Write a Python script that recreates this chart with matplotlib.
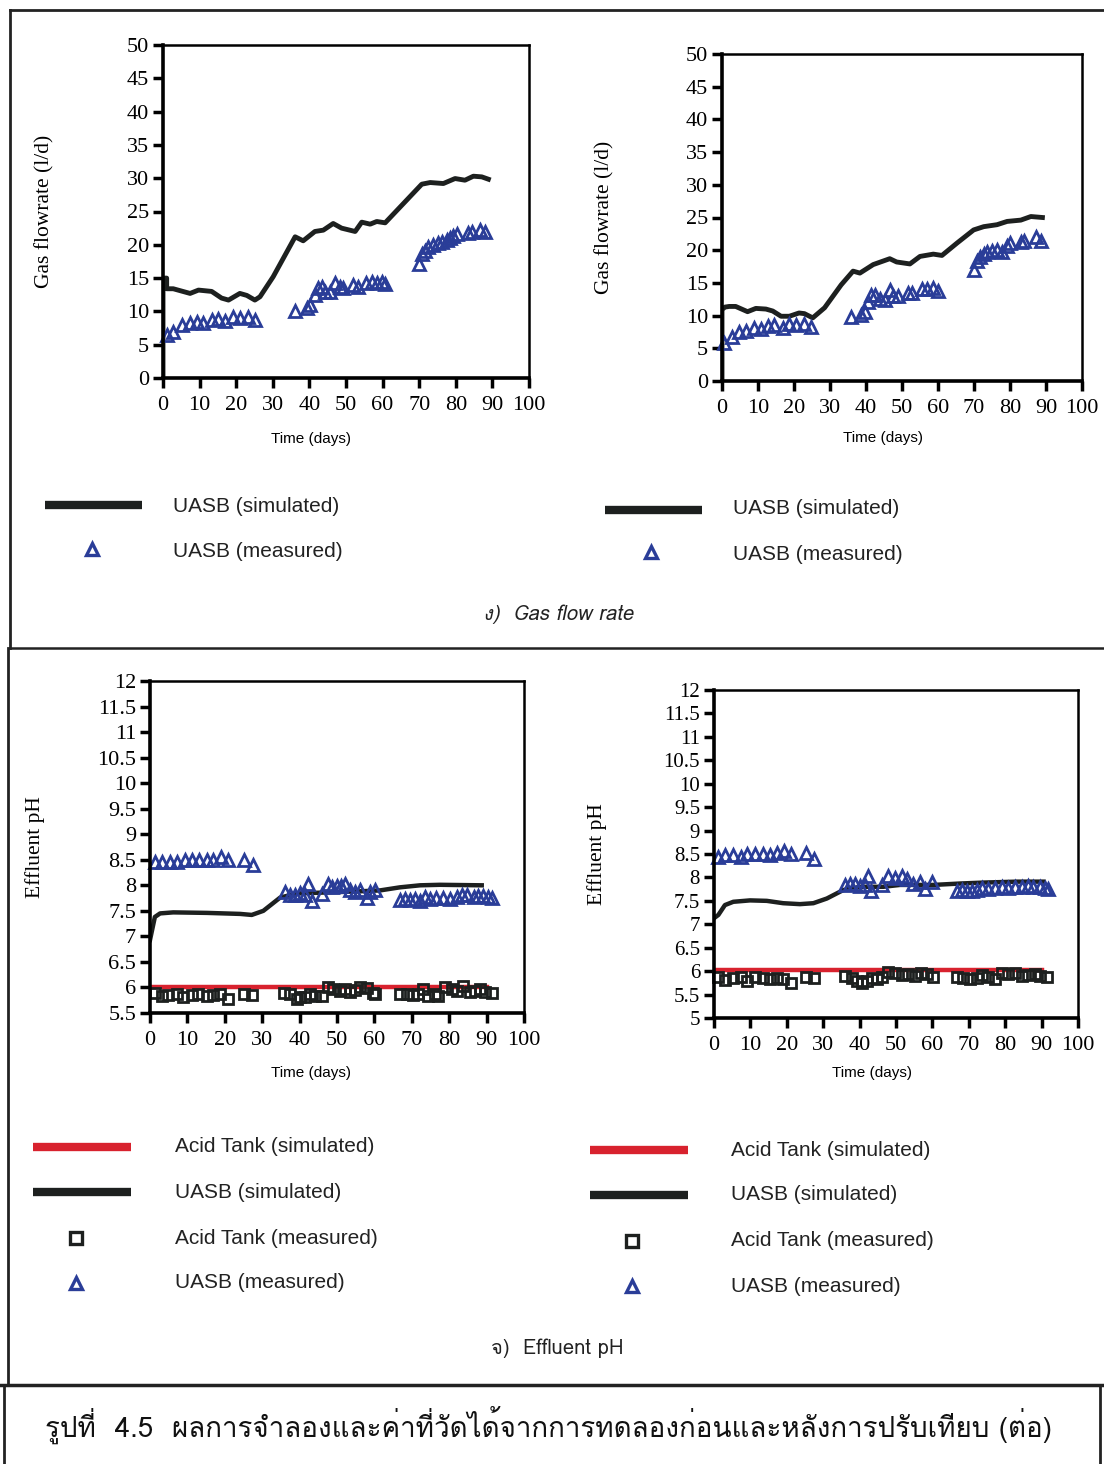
import matplotlib
matplotlib.use("Agg")
import matplotlib.pyplot as plt
from matplotlib.lines import Line2D
from matplotlib import font_manager
from fontTools.ttLib import TTFont

# ---- gas flow rate, left panel ----
gas_l_sim_t = [0, 0, 1.0, 1.0, 2.8, 7.4, 9.7, 13.3, 16.0, 17.9, 21.0, 22.9, 25.1, 26.5, 30.1,
               36.1, 38.3, 41.5, 43.8, 46.5, 48.8, 52.5, 54.3, 56.6, 58.4, 60.7, 65.7, 70.7,
               73.0, 76.6, 79.8, 82.5, 84.8, 87.1, 88.9]
gas_l_sim = [0, 15, 15, 13.4, 13.4, 12.7, 13.2, 13.0, 12.0, 11.7, 12.7, 12.4, 11.7, 12.2, 15.2,
             21.2, 20.6, 22.0, 22.2, 23.2, 22.5, 22.0, 23.4, 23.1, 23.5, 23.3, 26.2, 29.1,
             29.35, 29.2, 29.95, 29.7, 30.3, 30.2, 29.85]
gas_l_meas_t = [1.0, 2.8, 5.1, 7.4, 9.2, 11.0, 13.3, 15.1, 16.9, 19.2, 21.0, 23.3, 25.1,
                36.1, 39.3, 40.2, 41.5, 42.4, 43.4, 44.3, 45.6, 47.0, 48.4, 49.3, 52.0, 53.4,
                55.6, 57.0, 58.4, 59.7, 60.7,
                70.0, 70.7, 71.6, 72.5, 73.9, 75.2, 76.1, 77.5, 78.4, 79.3, 80.2, 83.4, 84.3,
                86.6, 88.0]
gas_l_meas = [6.45, 6.95, 7.95, 8.2, 8.45, 8.2, 8.7, 8.8, 8.6, 9.2, 8.95, 9.2, 8.7,
              10.05, 10.45, 10.95, 12.45, 13.45, 13.7, 12.95, 12.95, 14.2, 13.6, 13.45, 13.95,
              13.7, 14.2, 14.45, 14.3, 14.45, 14.1,
              17.1, 18.55, 19.1, 19.6, 19.95, 20.2, 20.45, 20.7, 20.95, 21.3, 21.6, 21.7,
              21.95, 22.2, 21.95]

# ---- gas flow rate, right panel ----
gas_r_sim_t = [0, 0, 0.8, 2.0, 3.8, 7.1, 9.4, 12.2, 14.1, 16.4, 18.7, 21.4, 22.9, 25.2, 28.5,
               33.1, 36.4, 38.3, 42.0, 46.6, 48.5, 52.2, 55.0, 58.7, 61.1, 65.3, 69.9, 72.7,
               76.4, 79.2, 83.0, 85.8, 89.0]
gas_r_sim = [0, 10.9, 11.3, 11.4, 11.4, 10.6, 11.1, 11.0, 10.7, 9.9, 9.9, 10.4, 10.3, 9.65,
             11.2, 14.7, 16.8, 16.5, 17.8, 18.7, 18.2, 17.9, 19.05, 19.4, 19.2, 21.1, 23.1,
             23.6, 23.9, 24.4, 24.6, 25.15, 25.0]
gas_r_meas_t = [0.6, 2.7, 4.7, 6.6, 8.9, 10.8, 12.7, 14.5, 16.9, 18.7, 20.6, 22.9, 24.8,
                35.9, 38.7, 39.6, 40.6, 41.5, 42.5, 43.9, 45.3, 46.6, 47.6, 49.0, 51.8, 52.7,
                55.5, 56.9, 58.7, 60.1,
                69.9, 70.9, 71.8, 72.7, 73.6, 75.0, 76.4, 77.8, 79.2, 80.1, 83.0, 83.9, 87.1,
                88.5]
gas_r_meas = [5.85, 6.7, 7.5, 7.7, 8.1, 7.9, 8.4, 8.5, 8.1, 8.7, 8.5, 8.7, 8.2,
              9.75, 10.15, 10.5, 12.1, 13.1, 13.2, 12.6, 12.45, 13.9, 13.0, 13.0, 13.5, 13.5,
              14.0, 14.0, 14.2, 13.8,
              16.9, 18.4, 18.9, 19.4, 19.7, 19.9, 20.1, 19.8, 20.6, 21.1, 21.2, 21.4, 21.95,
              21.4]

# ---- effluent pH, left panel ----
ph_l_uasb_sim_t = [0, 1.3, 2.7, 6.2, 15.2, 24.1, 27.2, 30.3, 34.8, 39.2, 47.2, 55.3, 61.5,
                   66.8, 72.2, 77.5, 88.7]
ph_l_uasb_sim = [6.93, 7.38, 7.45, 7.47, 7.46, 7.44, 7.42, 7.5, 7.76, 7.84, 7.86, 7.88, 7.9,
                 7.96, 8.0, 8.01, 8.0]
ph_l_acid_sim_t = [0.5, 90]
ph_l_acid_sim = [6.0, 6.0]
ph_l_uasb_meas_t = [1.3, 3.1, 5.3, 7.3, 9.4, 11.1, 13.2, 15.2, 16.9, 19.1, 20.9, 25.1, 27.5,
                    36.1, 37.4, 38.8, 40.1, 41.4, 42.3, 43.2, 45.9, 47.7, 48.6, 49.9, 51.2,
                    52.1, 53.5, 54.8, 56.1, 57.9, 58.8, 60.2,
                    66.8, 68.2, 69.5, 70.9, 72.2, 73.5, 74.9, 76.6, 78.4, 80.2, 82.0, 83.3,
                    84.7, 86.5, 87.8, 89.1, 90.5, 91.4]
ph_l_uasb_meas = [8.45, 8.45, 8.45, 8.45, 8.5, 8.5, 8.5, 8.5, 8.5, 8.55, 8.5, 8.5, 8.4,
                  7.87, 7.82, 7.82, 7.85, 7.82, 8.03, 7.7, 7.83, 8.03, 7.96, 7.99, 7.99,
                  8.03, 7.9, 7.87, 7.91, 7.76, 7.87, 7.9,
                  7.72, 7.74, 7.72, 7.73, 7.7, 7.78, 7.74, 7.76, 7.76, 7.74, 7.78, 7.81,
                  7.81, 7.78, 7.79, 7.79, 7.78, 7.76]
ph_l_acid_meas_t = [1.3, 3.1, 4.9, 7.1, 8.9, 11.1, 12.9, 15.2, 16.9, 18.7, 20.9, 25.0, 27.2,
                    35.7, 37.4, 39.2, 40.1, 41.4, 42.8, 44.1, 45.9, 47.7, 49.0, 50.8, 52.1,
                    53.5, 54.8, 56.1, 57.9, 59.7, 60.2,
                    66.8, 68.6, 70.4, 71.7, 73.1, 74.4, 76.2, 77.1, 78.9, 80.7, 82.0, 83.8,
                    85.6, 86.9, 88.2, 89.6, 91.4]
ph_l_acid_meas = [5.9, 5.84, 5.86, 5.87, 5.81, 5.86, 5.87, 5.84, 5.86, 5.87, 5.78, 5.88, 5.86,
                  5.9, 5.87, 5.78, 5.82, 5.81, 5.87, 5.84, 5.84, 6.0, 5.97, 5.93, 5.97,
                  5.92, 5.95, 6.0, 5.98, 5.9, 5.87,
                  5.88, 5.87, 5.86, 5.87, 5.97, 5.84, 5.87, 5.84, 6.0, 5.97, 5.93, 6.03,
                  5.92, 5.93, 5.97, 5.92, 5.9]

# ---- effluent pH, right panel ----
ph_r_uasb_sim_t = [0, 1.2, 3.0, 5.3, 9.9, 14.5, 19.0, 23.6, 27.3, 31.0, 35.5, 40.1, 46.5,
                   51.1, 60.3, 67.6, 74.0, 83.2, 90.5]
ph_r_uasb_sim = [7.13, 7.2, 7.41, 7.48, 7.51, 7.5, 7.45, 7.43, 7.45, 7.55, 7.73, 7.8, 7.8,
                 7.84, 7.84, 7.87, 7.89, 7.91, 7.91]
ph_r_acid_sim_t = [0.5, 90]
ph_r_acid_sim = [6.02, 6.02]
ph_r_uasb_meas_t = [1.2, 3.0, 5.3, 7.3, 9.2, 11.3, 13.4, 15.4, 17.2, 19.2, 21.1, 25.3, 27.5,
                    36.0, 37.4, 38.7, 40.1, 41.5, 42.2, 43.0, 46.1, 47.9, 49.7, 51.6, 52.9,
                    54.8, 56.6, 58.0, 59.8,
                    66.7, 68.0, 69.4, 70.8, 72.2, 73.5, 75.4, 77.2, 79.0, 80.9, 82.7, 84.5,
                    86.4, 87.7, 89.6, 90.9, 91.8]
ph_r_uasb_meas = [8.44, 8.48, 8.48, 8.44, 8.5, 8.51, 8.51, 8.48, 8.53, 8.57, 8.51, 8.53, 8.39,
                  7.84, 7.87, 7.87, 7.82, 7.84, 8.02, 7.7, 7.84, 8.03, 7.98, 8.03, 7.96,
                  7.87, 7.91, 7.75, 7.91,
                  7.7, 7.73, 7.72, 7.7, 7.73, 7.77, 7.75, 7.77, 7.79, 7.77, 7.8, 7.79,
                  7.82, 7.8, 7.8, 7.77, 7.75]
ph_r_acid_meas_t = [1.2, 3.0, 5.3, 7.3, 9.2, 11.3, 13.4, 15.4, 17.2, 19.0, 21.1, 25.3, 27.5,
                    36.0, 37.8, 39.2, 40.6, 41.9, 43.3, 44.7, 46.1, 47.9, 49.7, 51.6, 53.4,
                    55.2, 57.0, 58.4, 60.3,
                    66.7, 68.5, 70.3, 72.2, 73.5, 75.4, 77.2, 79.0, 80.9, 82.7, 84.5, 86.4,
                    88.2, 89.6, 91.4]
ph_r_acid_meas = [5.88, 5.81, 5.85, 5.88, 5.8, 5.87, 5.85, 5.83, 5.85, 5.83, 5.74, 5.88, 5.85,
                  5.89, 5.85, 5.78, 5.74, 5.8, 5.85, 5.83, 5.88, 5.98, 5.95, 5.91, 5.93,
                  5.89, 5.96, 5.93, 5.88,
                  5.88, 5.85, 5.83, 5.85, 5.91, 5.88, 5.83, 5.96, 5.93, 5.95, 5.89, 5.91,
                  5.93, 5.89, 5.88]

gas_yticks = list(range(0, 51, 5))
ph_l_yticks = [5.5, 6, 6.5, 7, 7.5, 8, 8.5, 9, 9.5, 10, 10.5, 11, 11.5, 12]
ph_r_yticks = [5, 5.5, 6, 6.5, 7, 7.5, 8, 8.5, 9, 9.5, 10, 10.5, 11, 11.5, 12]
time_ticks = list(range(0, 101, 10))

W, H = 1104, 1464
BLUE = "#2a3d98"
BLACK = "#1d201f"
RED = "#d8222e"
SERIF = "Liberation Serif"
SANS = "Liberation Sans"


def find_thai_font():
    # look for any installed font that has Thai glyphs
    for entry in font_manager.fontManager.ttflist:
        try:
            cmap = TTFont(entry.fname, fontNumber=0, lazy=True).getBestCmap()
        except Exception:
            continue
        if cmap and 0x0E23 in cmap and 0x0E07 in cmap:
            return entry.name
    return "DejaVu Sans"


THAI = find_thai_font()


def fx(x):
    return x / W


def fy(y):
    return 1 - y / H


def make_axes(fig, left, right, top, bottom):
    return fig.add_axes([fx(left), fy(bottom), fx(right - left), (bottom - top) / H])


def style_axes(ax, yticks, ylim, ylabel, ylab_x, xlab_x, xlab_y, ysize=16):
    ax.set_xlim(0, 100)
    ax.set_ylim(*ylim)
    ax.set_xticks(time_ticks)
    ax.set_yticks(yticks)
    ax.set_yticklabels(["%g" % v for v in yticks])
    ax.tick_params(direction="out", length=7, width=2.5)
    ax.tick_params(axis="x", labelsize=16, pad=6)
    ax.tick_params(axis="y", labelsize=ysize, pad=3)
    for lab in ax.get_xticklabels() + ax.get_yticklabels():
        lab.set_family(SERIF)
    for s in ["left", "bottom"]:
        ax.spines[s].set_linewidth(2.6)
    for s in ["top", "right"]:
        ax.spines[s].set_linewidth(1.8)
    ax.set_xlabel("Time (days)", family=SANS, fontsize=11, va="center")
    ax.xaxis.set_label_coords(xlab_x, xlab_y)
    ax.set_ylabel(ylabel, family=SERIF, fontsize=15.5, va="center", ha="center")
    ax.yaxis.set_label_coords(ylab_x, 0.5)


def meas(ax, t, v, marker, color, ms):
    ax.plot(t, v, linestyle="none", marker=marker, markersize=ms, markerfacecolor="none",
            markeredgecolor=color, markeredgewidth=2, clip_on=False)


fig = plt.figure(figsize=(W / 100, H / 100), dpi=100)
fig.patch.set_facecolor("white")

# gas flow rate panels
ax = make_axes(fig, 163, 529, 45, 378)
ax.plot(gas_l_sim_t, gas_l_sim, color=BLACK, lw=3.5, solid_joinstyle="round")
meas(ax, gas_l_meas_t, gas_l_meas, "^", BLUE, 8.5)
style_axes(ax, gas_yticks, (0, 50), "Gas flowrate (l/d)", -0.322, 0.404, -0.183)

ax = make_axes(fig, 722, 1082, 54, 381)
ax.plot(gas_r_sim_t, gas_r_sim, color=BLACK, lw=3.5, solid_joinstyle="round")
meas(ax, gas_r_meas_t, gas_r_meas, "^", BLUE, 8.5)
style_axes(ax, gas_yticks, (0, 50), "Gas flowrate (l/d)", -0.325, 0.447, -0.174)

# effluent pH panels
ax = make_axes(fig, 150, 524, 681, 1013)
ax.plot(ph_l_acid_sim_t, ph_l_acid_sim, color=RED, lw=3.2)
ax.plot(ph_l_uasb_sim_t, ph_l_uasb_sim, color=BLACK, lw=3.2, solid_joinstyle="round")
meas(ax, ph_l_acid_meas_t, ph_l_acid_meas, "s", BLACK, 7.5)
meas(ax, ph_l_uasb_meas_t, ph_l_uasb_meas, "^", BLUE, 8)
style_axes(ax, ph_l_yticks, (5.5, 12), "Effluent pH", -0.307, 0.43, -0.181)

ax = make_axes(fig, 714, 1078, 690, 1018)
ax.plot(ph_r_acid_sim_t, ph_r_acid_sim, color=RED, lw=3.2)
ax.plot(ph_r_uasb_sim_t, ph_r_uasb_sim, color=BLACK, lw=3.2, solid_joinstyle="round")
meas(ax, ph_r_acid_meas_t, ph_r_acid_meas, "s", BLACK, 7.5)
meas(ax, ph_r_uasb_meas_t, ph_r_uasb_meas, "^", BLUE, 8)
style_axes(ax, ph_r_yticks, (5, 12), "Effluent pH", -0.321, 0.434, -0.168, ysize=15)


def legend_line(x0, x1, y, color, lw):
    fig.add_artist(Line2D([fx(x0), fx(x1)], [fy(y), fy(y)], color=color, lw=lw,
                          solid_capstyle="butt"))


def legend_marker(x, y, marker, color):
    fig.add_artist(Line2D([fx(x)], [fy(y)], linestyle="none", marker=marker, markersize=9,
                          markerfacecolor="none", markeredgecolor=color, markeredgewidth=2.4))


def legend_text(x, y, s):
    fig.text(fx(x), fy(y), s, family=SANS, fontsize=15, ha="left", va="center", color="#222222")


# legends of gas flow rate
legend_line(45, 142, 505, BLACK, 6)
legend_text(173, 506, "UASB (simulated)")
legend_marker(92, 549, "^", BLUE)
legend_text(173, 551, "UASB (measured)")
legend_line(605, 702, 510, BLACK, 6)
legend_text(733, 509, "UASB (simulated)")
legend_marker(651, 552, "^", BLUE)
legend_text(733, 554, "UASB (measured)")

# legends of effluent pH
for x0, xt, xm, ys in [(33, 175, 76, [1147, 1192, 1238, 1283]),
                       (590, 731, 632, [1150, 1195, 1241, 1286])]:
    legend_line(x0, x0 + 98, ys[0], RED, 6)
    legend_text(xt, ys[0], "Acid Tank (simulated)")
    legend_line(x0, x0 + 98, ys[1], BLACK, 6)
    legend_text(xt, ys[1], "UASB (simulated)")
    legend_marker(xm, ys[2], "s", BLACK)
    legend_text(xt, ys[2], "Acid Tank (measured)")
    legend_marker(xm, ys[3], "^", BLUE)
    legend_text(xt, ys[3], "UASB (measured)")

# section captions
fig.text(fx(558), fy(614), "ง)  Gas flow rate", family=[THAI, SANS], fontsize=14.5,
         style="italic", ha="center", va="center", color="#222222")
fig.text(fx(557), fy(1348), "จ)  Effluent pH", family=[THAI, SANS], fontsize=14.5,
         ha="center", va="center", color="#222222")
fig.text(fx(45), fy(1425),
         "รูปที่  4.5  ผลการจำลองและค่าที่วัดได้จากการทดลองก่อนและหลังการปรับเทียบ (ต่อ)",
         family=[THAI, SANS], fontsize=20, ha="left", va="center", color="#111111")

# page frame lines
frame = [((10, 10), (1104, 10), 2), ((10, 10), (10, 648), 2), ((10, 648), (1104, 648), 1.8),
         ((8, 648), (8, 1385), 2), ((0, 1385), (1104, 1385), 2.5),
         ((4, 1385), (4, 1464), 2), ((1100, 1385), (1100, 1464), 2)]
for (x0, y0), (x1, y1), lw in frame:
    fig.add_artist(Line2D([fx(x0), fx(x1)], [fy(y0), fy(y1)], color="#222222", lw=lw))

fig.savefig("out.png", dpi=100)
